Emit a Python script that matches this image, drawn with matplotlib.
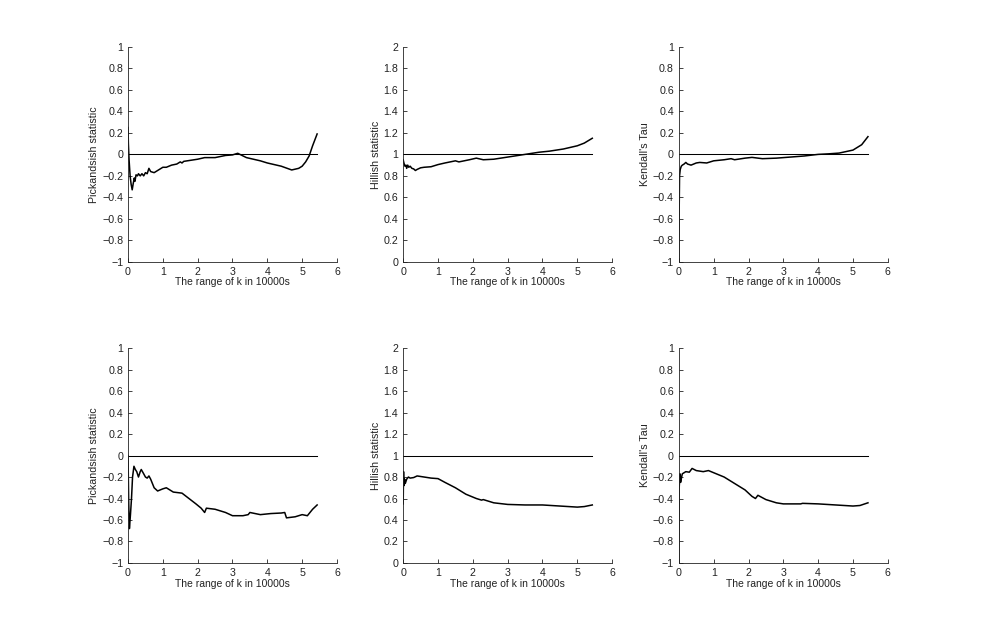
import matplotlib
matplotlib.use("Agg")
import matplotlib.pyplot as plt

plt.rcParams["font.family"] = ["Liberation Sans", "DejaVu Sans"]

# ── Data (k in 10000s) ────────────────────────────────────────────────────
K_MAX = 5.43
XLABEL = "The range of k in 10000s"

# top row
pick_top_x = [0.0, 0.01, 0.03, 0.06, 0.09, 0.12, 0.15, 0.18, 0.2, 0.23, 0.27, 0.3, 0.35, 0.4,
              0.45, 0.5, 0.55, 0.6, 0.65, 0.75, 0.9, 1.0, 1.1, 1.25, 1.4, 1.5, 1.55, 1.6, 1.8,
              2.0, 2.2, 2.5, 2.8, 3.0, 3.15, 3.4, 3.8, 4.0, 4.4, 4.7, 4.9, 5.0, 5.1, 5.2, 5.3,
              5.43]
pick_top_y = [0.25, 0.1, -0.05, -0.2, -0.28, -0.33, -0.27, -0.22, -0.25, -0.19, -0.2, -0.18,
              -0.2, -0.18, -0.2, -0.17, -0.18, -0.13, -0.16, -0.17, -0.14, -0.12, -0.12, -0.1,
              -0.09, -0.07, -0.08, -0.065, -0.055, -0.045, -0.03, -0.03, -0.01, -0.005, 0.01,
              -0.03, -0.06, -0.08, -0.11, -0.145, -0.13, -0.11, -0.07, -0.015, 0.08, 0.19]

hill_top_x = [0.0, 0.02, 0.05, 0.08, 0.1, 0.13, 0.16, 0.2, 0.25, 0.3, 0.35, 0.4, 0.5, 0.6,
              0.8, 1.0, 1.2, 1.5, 1.6, 1.9, 2.1, 2.3, 2.6, 3.0, 3.3, 3.5, 3.9, 4.2, 4.6, 5.0,
              5.2, 5.43]
hill_top_y = [0.95, 0.92, 0.89, 0.9, 0.87, 0.9, 0.88, 0.89, 0.87, 0.865, 0.85, 0.86, 0.875,
              0.88, 0.885, 0.905, 0.92, 0.94, 0.93, 0.95, 0.965, 0.95, 0.955, 0.975, 0.99,
              1.0, 1.02, 1.03, 1.05, 1.08, 1.105, 1.15]

tau_top_x = [0.0, 0.01, 0.02, 0.04, 0.07, 0.1, 0.15, 0.2, 0.25, 0.35, 0.5, 0.6, 0.8, 1.0,
             1.3, 1.5, 1.6, 1.9, 2.1, 2.4, 2.8, 3.2, 3.6, 4.0, 4.3, 4.6, 5.0, 5.25, 5.43]
tau_top_y = [-1.0, -0.5, -0.2, -0.14, -0.11, -0.1, -0.09, -0.075, -0.09, -0.1, -0.08, -0.075,
             -0.08, -0.06, -0.05, -0.04, -0.05, -0.035, -0.028, -0.04, -0.035, -0.025, -0.015,
             0.0, 0.005, 0.012, 0.04, 0.09, 0.165]

# bottom row
pick_bot_x = [0.0, 0.02, 0.04, 0.07, 0.1, 0.13, 0.17, 0.21, 0.25, 0.3, 0.35, 0.38, 0.45, 0.5,
              0.55, 0.6, 0.65, 0.75, 0.85, 1.0, 1.1, 1.3, 1.55, 1.75, 1.95, 2.1, 2.2, 2.25,
              2.5, 2.8, 3.0, 3.3, 3.45, 3.5, 3.8, 4.1, 4.4, 4.5, 4.55, 4.8, 5.0, 5.15, 5.3,
              5.43]
pick_bot_y = [0.0, -0.45, -0.68, -0.55, -0.4, -0.2, -0.1, -0.13, -0.15, -0.2, -0.15, -0.13,
              -0.17, -0.2, -0.21, -0.19, -0.22, -0.3, -0.33, -0.31, -0.3, -0.34, -0.35, -0.4,
              -0.45, -0.49, -0.53, -0.49, -0.5, -0.53, -0.56, -0.56, -0.55, -0.53, -0.55,
              -0.54, -0.535, -0.53, -0.58, -0.57, -0.55, -0.56, -0.5, -0.46]

hill_bot_x = [0.0, 0.01, 0.02, 0.04, 0.06, 0.1, 0.15, 0.2, 0.3, 0.4, 0.6, 0.8, 1.0, 1.2, 1.5,
              1.8, 2.1, 2.25, 2.3, 2.6, 3.0, 3.5, 4.0, 4.5, 5.0, 5.2, 5.43]
hill_bot_y = [0.55, 0.85, 0.72, 0.78, 0.74, 0.78, 0.8, 0.79, 0.795, 0.81, 0.8, 0.79, 0.785,
              0.75, 0.7, 0.64, 0.6, 0.585, 0.59, 0.56, 0.545, 0.54, 0.54, 0.53, 0.52, 0.525,
              0.54]

tau_bot_x = [0.0, 0.01, 0.03, 0.05, 0.08, 0.1, 0.15, 0.2, 0.3, 0.38, 0.5, 0.7, 0.85, 1.0,
             1.3, 1.6, 1.9, 2.1, 2.2, 2.27, 2.5, 2.8, 3.0, 3.5, 3.55, 4.0, 4.5, 5.0, 5.2, 5.43]
tau_bot_y = [-1.0, -0.3, -0.17, -0.25, -0.2, -0.17, -0.16, -0.15, -0.155, -0.12, -0.14,
             -0.15, -0.14, -0.16, -0.2, -0.26, -0.32, -0.38, -0.4, -0.37, -0.41, -0.44,
             -0.45, -0.45, -0.445, -0.45, -0.46, -0.47, -0.465, -0.44]

PANELS = [
    # (x, y, reference level, ylim, ylabel)
    (pick_top_x, pick_top_y, 0, (-1, 1), "Pickandsish statistic"),
    (hill_top_x, hill_top_y, 1, (0, 2), "Hillish statistic"),
    (tau_top_x, tau_top_y, 0, (-1, 1), "Kendall's Tau"),
    (pick_bot_x, pick_bot_y, 0, (-1, 1), "Pickandsish statistic"),
    (hill_bot_x, hill_bot_y, 1, (0, 2), "Hillish statistic"),
    (tau_bot_x, tau_bot_y, 0, (-1, 1), "Kendall's Tau"),
]

LEFTS = [0.1305, 0.411, 0.692]
BOTTOMS = [0.587, 0.112]
W, H = 0.213, 0.339


def style_ax(ax, ylim, ylabel):
    ax.set_xlim(0, 6)
    ax.set_ylim(*ylim)
    ax.set_xticks(range(0, 7))
    lo, hi = ylim
    ax.set_yticks([lo + i * 0.2 for i in range(11)])
    ax.set_yticklabels([f"{lo + i * 0.2:g}".replace("-", "\u2212") for i in range(11)])
    for s in ("top", "right"):
        ax.spines[s].set_visible(False)
    for s in ("left", "bottom"):
        ax.spines[s].set_linewidth(0.6)
        ax.spines[s].set_color("#222222")
    ax.tick_params(direction="in", length=3, width=0.6, labelsize=7.7, pad=3.5,
                   colors="#222222")
    ax.set_xlabel(XLABEL, fontsize=7.5, labelpad=0.5, color="#222222")
    ax.set_ylabel(ylabel, fontsize=7.7, labelpad=2, color="#222222")


fig = plt.figure(figsize=(9.81, 6.34), dpi=100, facecolor="white")
for i, (x, y, ref, ylim, ylabel) in enumerate(PANELS):
    ax = fig.add_axes([LEFTS[i % 3], BOTTOMS[i // 3], W, H])
    ax.plot([0, K_MAX], [ref, ref], color="black", linewidth=0.75)
    ax.plot(x, y, color="black", linewidth=1.1)
    style_ax(ax, ylim, ylabel)

plt.savefig("out.png", dpi=100, facecolor="white")
